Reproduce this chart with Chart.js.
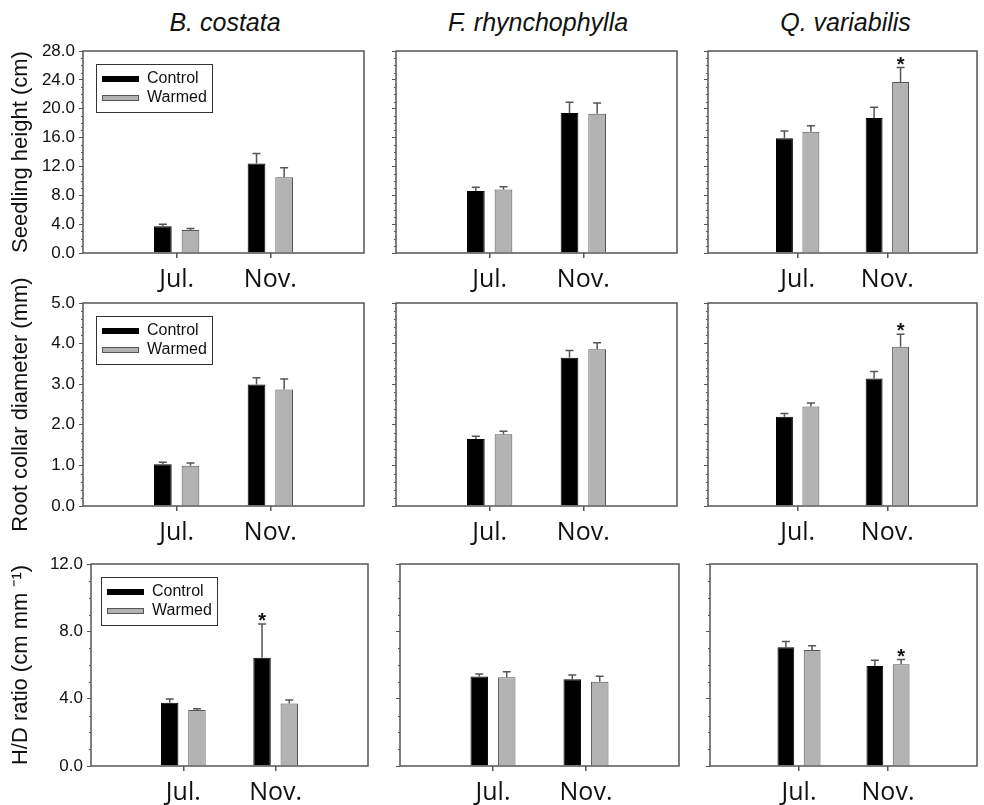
<!DOCTYPE html>
<html>
<head>
<meta charset="utf-8">
<script src="https://cdn.jsdelivr.net/npm/chart.js@4.4.0/dist/chart.umd.min.js"></script>
<style>
  body { margin: 0; background: #fff; }
  #wrap { position: relative; width: 984px; height: 805px; overflow: hidden; }
  #wrap canvas { position: absolute; }
  .sp-title { position: absolute; top: 8px; text-align: center; line-height: 26px;
              font: italic 25px "Liberation Sans", Arial, sans-serif; color: #111; }
</style>
</head>
<body>
<div id="wrap"></div>
<script>
// ---- data ----
const months = ['Jul.', 'Nov.'];
const species = ['B. costata', 'F. rhynchophylla', 'Q. variabilis'];
const seriesNames = ['Control', 'Warmed'];

// Seedling height (cm), per species: [Jul, Nov]
const heightControl   = [[3.7, 12.4], [8.6, 19.4], [15.9, 18.7]];
const heightControlSE = [[0.3, 1.4],  [0.5, 1.5],  [1.0, 1.5]];
const heightWarmed    = [[3.2, 10.5], [8.8, 19.3], [16.8, 23.7]];
const heightWarmedSE  = [[0.2, 1.3],  [0.4, 1.5],  [0.85, 2.0]];

// Root collar diameter (mm)
const diamControl   = [[1.03, 2.99], [1.65, 3.65], [2.20, 3.14]];
const diamControlSE = [[0.05, 0.17], [0.07, 0.18], [0.08, 0.17]];
const diamWarmed    = [[0.99, 2.87], [1.77, 3.86], [2.45, 3.92]];
const diamWarmedSE  = [[0.07, 0.26], [0.07, 0.16], [0.09, 0.31]];

// H/D ratio (cm mm-1)
const hdControl   = [[3.76, 6.43], [5.31, 5.15], [7.05, 5.94]];
const hdControlSE = [[0.22, 2.01], [0.16, 0.26], [0.34, 0.34]];
const hdWarmed    = [[3.33, 3.72], [5.27, 5.01], [6.89, 6.04]];
const hdWarmedSE  = [[0.07, 0.20], [0.33, 0.32], [0.26, 0.28]];

// significant differences: [species index, series index, month index]
const heightSig = [[2, 1, 1]];
const diamSig   = [[2, 1, 1]];
const hdSig     = [[0, 0, 1], [2, 1, 1]];

// y axis: max, major step, minor step
const heightTicks = [28, 4, 1];
const diamTicks   = [5, 1, 0.2];
const hdTicks     = [12, 4, 1];

const yTitles = ['Seedling height (cm)', 'Root collar diameter (mm)', 'H/D ratio (cm mm \u207B\u00B9)'];

// ---- layout of the plot boxes on the page ----
const rows = [
  { top: 51,  bottom: 253, boxes: [[83, 367], [396, 680], [708, 983]], legend: [13, 13] },
  { top: 303, bottom: 506, boxes: [[83, 367], [396, 680], [708, 983]], legend: [13, 13] },
  { top: 564, bottom: 766, boxes: [[91, 371], [400, 682], [710, 983]], legend: [10, 13] }
];

const rowData = [
  { c: heightControl, cse: heightControlSE, w: heightWarmed, wse: heightWarmedSE, sig: heightSig, ticks: heightTicks },
  { c: diamControl,   cse: diamControlSE,   w: diamWarmed,   wse: diamWarmedSE,   sig: diamSig,   ticks: diamTicks },
  { c: hdControl,     cse: hdControlSE,     w: hdWarmed,     wse: hdWarmedSE,     sig: hdSig,     ticks: hdTicks }
];

const axisColor = '#555';
const sansFont = '"Liberation Sans", Arial, sans-serif';
const topRoom = 40;

// frame, minor ticks, error bars, asterisks and the boxed legend
const panelDecor = {
  id: 'panelDecor',
  afterDatasetsDraw(chart, args, opts) {
    const { ctx, chartArea: a } = chart;
    const y = chart.scales.y;
    ctx.save();

    // error bars (upper half only, with cap)
    ctx.strokeStyle = axisColor;
    ctx.lineWidth = 1.5;
    chart.data.datasets.forEach((ds, di) => {
      chart.getDatasetMeta(di).data.forEach((bar, i) => {
        const se = ds.errors[i];
        if (se == null) return;
        const yTop = y.getPixelForValue(ds.data[i] + se);
        ctx.beginPath();
        ctx.moveTo(bar.x, bar.y);
        ctx.lineTo(bar.x, yTop);
        ctx.moveTo(bar.x - 4, yTop);
        ctx.lineTo(bar.x + 4, yTop);
        ctx.stroke();
        if (ds.stars[i]) {
          ctx.fillStyle = '#111';
          ctx.font = 'bold 20px ' + sansFont;
          ctx.textAlign = 'center';
          ctx.textBaseline = 'alphabetic';
          ctx.fillText('*', bar.x, yTop + 3);
        }
      });
    });

    // frame
    ctx.strokeStyle = axisColor;
    ctx.lineWidth = 1.5;
    ctx.strokeRect(a.left, a.top, a.right - a.left, a.bottom - a.top);

    // minor ticks
    const [max, major, minor] = opts.ticks;
    ctx.lineWidth = 1;
    const n = Math.round(max / minor);
    for (let k = 1; k < n; k++) {
      const v = k * minor;
      if (Math.abs(v / major - Math.round(v / major)) < 1e-6) continue;
      const py = Math.round(y.getPixelForValue(v)) + 0.5;
      ctx.beginPath();
      ctx.moveTo(a.left - 2, py);
      ctx.lineTo(a.left, py);
      ctx.stroke();
    }

    // legend box
    if (opts.legend) {
      const lx = a.left + opts.legend[0], ly = a.top + opts.legend[1];
      ctx.lineWidth = 1;
      ctx.strokeStyle = '#333';
      ctx.strokeRect(lx + 0.5, ly + 0.5, 116, 48);
      chart.data.datasets.forEach((ds, di) => {
        const rowY = ly + 15 + di * 19;
        ctx.fillStyle = ds.backgroundColor;
        ctx.fillRect(lx + 6, rowY - 3, 37, 6);
        if (ds.borderColor !== ds.backgroundColor) {
          ctx.strokeStyle = ds.borderColor;
          ctx.strokeRect(lx + 6.5, rowY - 2.5, 36, 5);
        }
        ctx.fillStyle = '#111';
        ctx.font = '16px ' + sansFont;
        ctx.textAlign = 'left';
        ctx.textBaseline = 'middle';
        ctx.fillText(ds.label, lx + 51, rowY);
      });
    }
    ctx.restore();
  }
};

const wrap = document.getElementById('wrap');

// column titles
rows[0].boxes.forEach((b, col) => {
  const d = document.createElement('div');
  d.className = 'sp-title';
  d.style.left = b[0] + 'px';
  d.style.width = (b[1] - b[0]) + 'px';
  d.textContent = species[col];
  wrap.appendChild(d);
});

rows.forEach((row, r) => {
  const rd = rowData[r];
  row.boxes.forEach((box, col) => {
    const [left, right] = box;
    const cx = col === 0 ? 0 : left - 12;
    const cw = Math.min(right + 4, 984) - cx;
    const cy = row.top - topRoom;
    const ch = row.bottom + 45 - cy;
    const yW = left - cx;
    const xH = cy + ch - row.bottom;

    const canvas = document.createElement('canvas');
    canvas.style.left = cx + 'px';
    canvas.style.top = cy + 'px';
    canvas.style.width = cw + 'px';
    canvas.style.height = ch + 'px';
    canvas.width = cw;
    canvas.height = ch;
    wrap.appendChild(canvas);

    const starsFor = s => months.map((m, mi) => rd.sig.some(t => t[0] === col && t[1] === s && t[2] === mi));
    const pad = v => [null, ...v, null];

    new Chart(canvas, {
      type: 'bar',
      data: {
        labels: ['', ...months, ''],
        datasets: [
          {
            label: seriesNames[0],
            data: pad(rd.c[col]),
            errors: pad(rd.cse[col]),
            stars: pad(starsFor(0)),
            backgroundColor: '#000',
            borderColor: '#000',
            borderWidth: 1
          },
          {
            label: seriesNames[1],
            data: pad(rd.w[col]),
            errors: pad(rd.wse[col]),
            stars: pad(starsFor(1)),
            backgroundColor: '#b3b3b3',
            borderColor: '#555',
            borderWidth: 1
          }
        ]
      },
      options: {
        responsive: false,
        animation: false,
        events: [],
        categoryPercentage: 0.59,
        barPercentage: 0.64,
        layout: { padding: { top: topRoom, right: cw - (right - cx), left: 0, bottom: 0 } },
        plugins: {
          legend: { display: false },
          tooltip: { enabled: false },
          panelDecor: { ticks: rd.ticks, legend: col === 0 ? row.legend : null }
        },
        scales: {
          x: {
            type: 'category',
            offset: false,
            border: { display: false },
            grid: {
              offset: false,
              drawOnChartArea: false,
              drawTicks: true,
              tickLength: 5,
              lineWidth: 1.5,
              color: c => (c.index === 1 || c.index === 2) ? axisColor : 'transparent'
            },
            ticks: {
              padding: 7,
              color: '#111',
              maxRotation: 0,
              autoSkip: false,
              font: { family: '"Open Sans", "Noto Sans", sans-serif', size: 25 }
            },
            afterFit: s => { s.height = xH; }
          },
          y: {
            min: 0,
            max: rd.ticks[0],
            border: { display: false },
            grid: { drawOnChartArea: false, drawTicks: true, tickLength: 4, color: axisColor, lineWidth: 1 },
            ticks: {
              display: col === 0,
              stepSize: rd.ticks[1],
              padding: 4,
              color: '#111',
              font: { family: sansFont, size: 17 },
              callback: v => v.toFixed(1)
            },
            title: {
              display: col === 0,
              text: yTitles[r],
              color: '#111',
              padding: { top: 8, bottom: 0 },
              font: { family: sansFont, size: 22, lineHeight: 1.2 }
            },
            afterFit: s => { s.width = yW; }
          }
        }
      },
      plugins: [panelDecor]
    });
  });
});
</script>
</body>
</html>
